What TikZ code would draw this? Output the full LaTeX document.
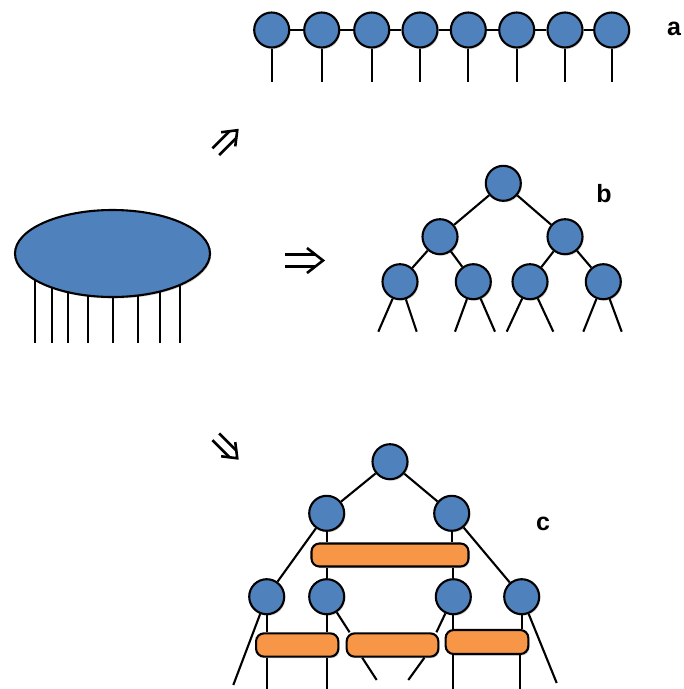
\documentclass[tikz,border=0pt]{standalone}
\usepackage{fontspec}
\setmainfont{Liberation Sans}
\usetikzlibrary{shapes.geometric,arrows.meta,backgrounds,shadows,calc}
\definecolor{tnblue}{HTML}{4F81BD}
\definecolor{tnorange}{HTML}{F79646}
\tikzset{
  softshadow/.style={drop shadow={shadow xshift=1.2pt, shadow yshift=-1.5pt, opacity=0.18, fill=black}},
  tensor/.style={circle, draw=black, fill=tnblue, line width=2.1pt, minimum size=35pt, inner sep=0pt, softshadow},
  barbox/.style={rectangle, rounded corners=8pt, draw=black, fill=tnorange, line width=2.1pt, inner sep=0pt, softshadow},
  leg/.style={line width=2.1pt, line cap=butt},
  lab/.style={font=\fontsize{25}{25}\selectfont\bfseries, inner sep=0pt},
  arrowstroke/.style={line width=2.6pt, line join=miter, line cap=butt},
  pics/dblarrow/.style={code={
    \draw[arrowstroke] (-19,-6) -- (11.5,-6);
    \draw[arrowstroke] (-19,6) -- (11.5,6);
    \draw[arrowstroke] (3,-12.5) -- (19,0) -- (3,12.5);
  }},
}
\begin{document}
\begin{tikzpicture}[x=1pt,y=-1pt]
\useasboundingbox (0,0) rectangle (684,689);

% ---------- (a) MPS ----------
\foreach \i/\x in {1/271.7,2/321.7,3/371.7,4/420,5/468.3,6/516.7,7/565,8/611.7}{
  \node[tensor] (m\i) at (\x,30) {};
  \coordinate (mf\i) at (\x,82);
  \draw[leg] (m\i.south) -- (mf\i);
}
\foreach \i/\j in {1/2,2/3,3/4,4/5,5/6,6/7,7/8}{
  \draw[leg] (m\i) -- (m\j);
}
\node[lab] (la) at (674,29) {a};

% ---------- big tensor ----------
\node[ellipse, draw=black, fill=tnblue, line width=2.1pt, minimum width=195pt, minimum height=87pt, inner sep=0pt, softshadow] (E) at (112.5,253.5) {};
\begin{pgfonlayer}{background}
\foreach \k/\x in {1/35,2/51.7,3/68.3,4/88.3,5/113.3,6/138.3,7/160,8/180}{
  \coordinate (ef\k) at (\x,343);
  \draw[leg] (ef\k |- E.center) -- (ef\k);
}
\end{pgfonlayer}

% ---------- arrows ----------
\pic[rotate=45, scale=0.8] at (226.5,141) {dblarrow};
\pic at (304,260.5) {dblarrow};
\pic[rotate=-45, scale=0.8] at (226.5,447.5) {dblarrow};

% ---------- (b) tree ----------
\node[tensor] (b0) at (503.3,183.3) {};
\node[tensor] (b1) at (440,236.7) {};
\node[tensor] (b2) at (565,236.7) {};
\node[tensor] (b11) at (400,281.7) {};
\node[tensor] (b12) at (473.3,281.7) {};
\node[tensor] (b21) at (530,281.7) {};
\node[tensor] (b22) at (603.3,281.7) {};
\draw[leg] (b0) -- (b1);
\draw[leg] (b0) -- (b2);
\draw[leg] (b1) -- (b11);
\draw[leg] (b1) -- (b12);
\draw[leg] (b2) -- (b21);
\draw[leg] (b2) -- (b22);
\foreach \n/\l/\r in {b11/378.3/416.7, b12/455/495, b21/506.7/553.3, b22/583.3/621.7}{
  \coordinate (\n L) at (\l,331.7);
  \coordinate (\n R) at (\r,331.7);
  \draw[leg] (\n) -- (\n L);
  \draw[leg] (\n) -- (\n R);
}
\node[lab] (lb) at (604,194) {b};

% ---------- (c) MERA ----------
\node[tensor] (c0) at (390,461.7) {};
\node[tensor] (c1) at (326.7,513.3) {};
\node[tensor] (c2) at (451.7,513.3) {};
\node[barbox, minimum width=157pt, minimum height=23pt] (B) at (390,555) {};
\node[tensor] (d1) at (266.7,596.7) {};
\node[tensor] (d2) at (326.7,596.7) {};
\node[tensor] (d3) at (453.3,596.7) {};
\node[tensor] (d4) at (521.7,596.7) {};
\node[barbox, minimum width=82.3pt, minimum height=23.3pt] (B1) at (297.2,645) {};
\node[barbox, minimum width=91.7pt, minimum height=23.3pt] (B2) at (392.5,645) {};
\node[barbox, minimum width=82.7pt, minimum height=24pt] (B3) at (487,642) {};

\draw[leg] (c0) -- (c1);
\draw[leg] (c0) -- (c2);
\draw[leg] (c1) -- (c1 |- B.north);
\draw[leg] (c2) -- (c2 |- B.north);
\draw[leg] (c1) -- (d1);
\draw[leg] (c2) -- (d4);
\draw[leg] (d2 |- B.south) -- (d2);
\draw[leg] (d3 |- B.south) -- (d3);

\draw[leg] (d1) -- (d1 |- B1.north);
\draw[leg] (d2) -- (d2 |- B1.north);
\draw[leg] (d2) -- ($(B2.north west)+(4,0)$);
\draw[leg] (d3) -- ($(B2.north east)+(-3,0)$);
\draw[leg] (d3) -- (d3 |- B3.north);
\draw[leg] (d4) -- (d4 |- B3.north);

\coordinate (f1) at (233.3,685);
\coordinate (f2) at (266.7,689);
\coordinate (f3) at (326.7,689);
\coordinate (f4) at (376.7,680);
\coordinate (f5) at (408.3,680);
\coordinate (f6) at (453.3,689);
\coordinate (f7) at (520,689);
\coordinate (f8) at (556.7,683);
\draw[leg] (d1) -- (f1);
\draw[leg] (f2 |- B1.south) -- (f2);
\draw[leg] (f3 |- B1.south) -- (f3);
\draw[leg] ($(B2.south west)+(16.6,0)$) -- (f4);
\draw[leg] ($(B2.south east)+(-15,0)$) -- (f5);
\draw[leg] (f6 |- B3.south) -- (f6);
\draw[leg] (f7 |- B3.south) -- (f7);
\draw[leg] (d4) -- (f8);
\node[lab] (lc) at (543,523.5) {c};
\end{tikzpicture}
\end{document}
